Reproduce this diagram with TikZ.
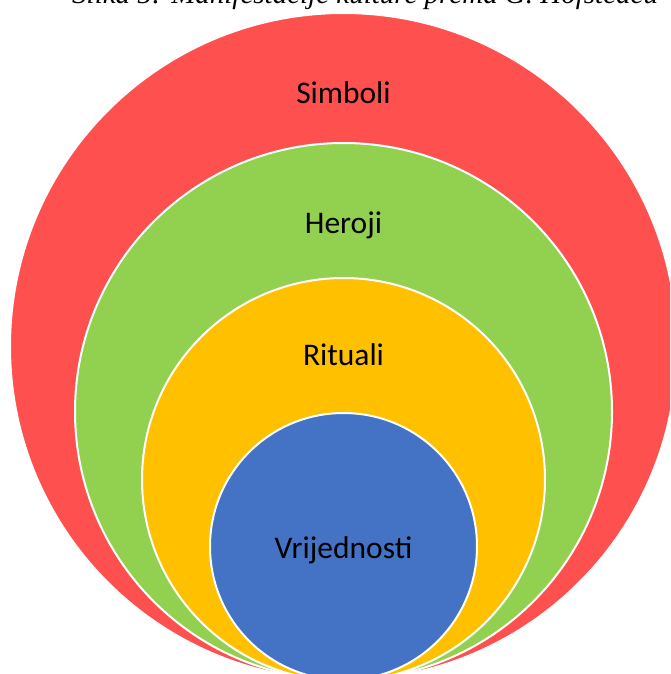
\documentclass[tikz,border=0pt]{standalone}
\usepackage{fontspec}
\setmainfont{Carlito}
\newfontfamily\captionfont{Liberation Serif}
\definecolor{simbolired}{RGB}{255,80,80}
\definecolor{herojigreen}{RGB}{146,208,80}
\definecolor{ritualiyellow}{RGB}{255,192,0}
\definecolor{vrijednostiblue}{RGB}{68,114,196}

\begin{document}
\begin{tikzpicture}[x=1pt,y=-1pt]
        %
        % `layer' is used for the four circles (they all touch at the bottom).
        % `layertext' is used for the names written in the circles.
        \tikzstyle{layer} = [circle,draw=white,line width=2pt,inner sep=0pt]
        \tikzstyle{layertext} = [anchor=base,inner sep=0pt,font=\fontsize{31.5}{31.5}\selectfont]
        %
        % Frame
        \useasboundingbox (0,0) rectangle (670,674);
        \clip (0,0) rectangle (670,674);
        %
        % Caption (cut off by the frame)
        \node[anchor=base west,inner sep=0pt,font=\captionfont\itshape\fontsize{29}{29}\selectfont]
        	(caption) at (72,4) {Slika 5: Manifestacije kulture prema G. Hofstedeu};
        %
        % Circles
        \node[layer,fill=simbolired,minimum size=667pt] (simboli) at (343.5,346.5) {};
        \node[layer,fill=herojigreen,minimum size=537pt] (heroji) at (343.5,411.5) {};
        \node[layer,fill=ritualiyellow,minimum size=403pt] (rituali) at (343.5,479.5) {};
        \node[layer,fill=vrijednostiblue,minimum size=267pt] (vrijednosti) at (343.5,546.5) {};
        %
        % Names
        \node[layertext] (t1) at (343.5,103) {Simboli};
        \node[layertext] (t2) at (343.5,233) {Heroji};
        \node[layertext] (t3) at (343.5,365) {Rituali};
        \node[layertext] (t4) at (343.5,558) {Vrijednosti};
        %
\end{tikzpicture}
\end{document}
